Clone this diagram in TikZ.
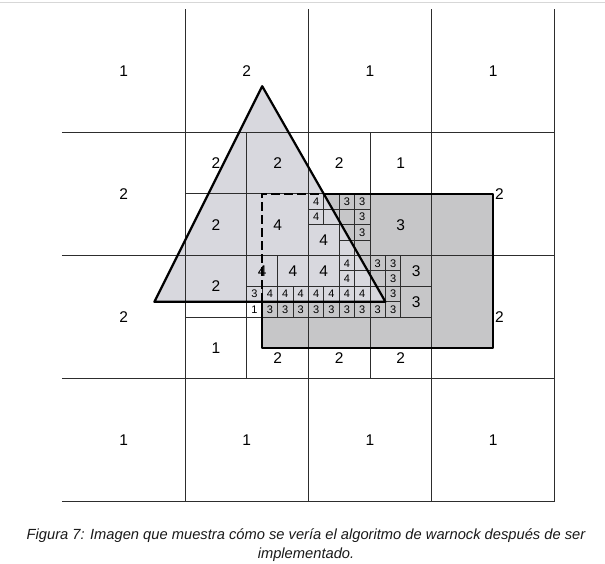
\documentclass[tikz,border=0pt]{standalone}
\usepackage{fontspec}
\setmainfont{Liberation Sans}
\definecolor{trifill}{RGB}{216,216,222}
\definecolor{recfill}{RGB}{198,198,200}
\definecolor{gridc}{RGB}{45,45,45}
\definecolor{chrome}{RGB}{215,215,215}
\begin{document}
\begin{tikzpicture}[x=15.4pt,y=15.4pt,
  gridline/.style={draw=gridc,line width=1pt},
  edgeline/.style={draw=black,line width=2.2pt,line join=round},
  hiddenline/.style={draw=black,line width=2.2pt,dash pattern=on 9pt off 4pt},
  biglbl/.style={font=\fontsize{15.5}{15.5}\selectfont,inner sep=0pt},
  smalllbl/.style={font=\fontsize{11}{11}\selectfont,inner sep=0pt},
  caplbl/.style={font=\fontsize{14.7}{17}\selectfont\itshape,inner sep=0pt,text=black!90}]
\useasboundingbox (-62/15.4,-62/15.4) rectangle (543/15.4,502/15.4);
% browser line at top
\draw[chrome,line width=1.5pt] (-62/15.4,499.5/15.4) -- (543/15.4,499.5/15.4);
% fills
\fill[recfill] (13,10) rectangle (28,20);
\fill[trifill] (6,13) -- (21,13) -- (13,27) -- cycle;
% level 1 grid
\foreach \y in {0,8,16,24} \draw[gridline] (0,\y) -- (32,\y);
\foreach \x in {8,16,24,32} \draw[gridline] (\x,0) -- (\x,32);
% level 2
\draw[gridline] (12,8) -- (12,24) (20,8) -- (20,24) (8,12) -- (24,12) (8,20) -- (24,20);
% level 3
\draw[gridline] (12,14) -- (24,14) (14,12) -- (14,16) (18,12) -- (18,20) (22,12) -- (22,16) (16,18) -- (20,18);
% level 4
\draw[gridline] (12,13) -- (22,13) (13,12) -- (13,14) (15,12) -- (15,14) (17,12) -- (17,14)
  (19,12) -- (19,20) (21,12) -- (21,16) (18,15) -- (22,15) (18,17) -- (20,17)
  (16,19) -- (20,19) (17,18) -- (17,20);
% big labels
\foreach[count=\i] \x/\y/\t in {4/28/1,12/28/2,20/28/1,28/28/1,
  4/20/2,28.4/20/2,4/12/2,28.4/12/2,
  4/4/1,12/4/1,20/4/1,28/4/1,
  10/22/2,14/22/2,18/22/2,22/22/1,
  10/18/2,14/18/4,22/18/3,10/14/2,
  10/10/1,14/9.35/2,18/9.35/2,22/9.35/2,
  17/17/4,13/15/4,15/15/4,17/15/4,23/15/3,23/13/3}
  \node[biglbl] (b\i) at (\x,\y) {\t};
% small labels
\foreach[count=\i] \x/\y/\t in {16.5/19.5/4,16.5/18.5/4,18.5/19.5/3,19.5/19.5/3,19.5/18.5/3,19.5/17.5/3,
  18.5/15.5/4,20.5/15.5/3,21.5/15.5/3,18.5/14.5/4,21.5/14.5/3,
  12.5/13.5/3,13.5/13.5/4,14.5/13.5/4,15.5/13.5/4,16.5/13.5/4,17.5/13.5/4,18.5/13.5/4,19.5/13.5/4,21.5/13.5/3,
  12.5/12.5/1,13.5/12.5/3,14.5/12.5/3,15.5/12.5/3,16.5/12.5/3,17.5/12.5/3,18.5/12.5/3,19.5/12.5/3,20.5/12.5/3,21.5/12.5/3}
  \node[smalllbl] (s\i) at (\x,\y) {\t};
% rectangle outline (visible parts solid, hidden parts dashed)
\draw[edgeline] (17,20) -- (28,20) -- (28,10) -- (13,10) -- (13,13);
\draw[hiddenline] (13,13) -- (13,20) -- (17,20);
% triangle outline
\draw[edgeline] (6,13) -- (21,13) -- (13,27) -- cycle;
% caption
\node[caplbl] (cap1) at (244/15.4,-34/15.4) {Figura 7: Imagen que muestra cómo se vería el algoritmo de warnock después de ser};
\node[caplbl] (cap2) at (244/15.4,-52.5/15.4) {implementado.};
\end{tikzpicture}
\end{document}
